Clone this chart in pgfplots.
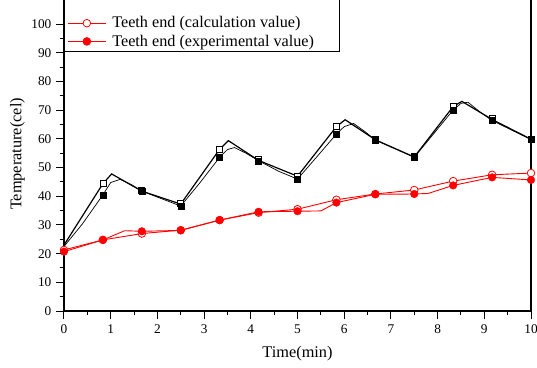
\documentclass[border=0pt]{standalone}
\usepackage{fontspec}
\setmainfont{Liberation Serif}
\usepackage{pgfplots}
\pgfplotsset{compat=1.18}
\begin{document}
\fontsize{13.3}{15}\selectfont
\begin{tikzpicture}
\begin{axis}[
  scale only axis, width=467pt, height=314pt,
  xmin=0, xmax=10, ymin=0, ymax=109.5,
  xtick={0,1,...,10}, ytick={0,10,...,100},
  minor x tick num=1, minor y tick num=1,
  tick align=outside, tick pos=left,
  major tick length=8pt, minor tick length=4pt,
  every tick/.style={black, line width=1pt},
  axis line style={line width=1.2pt},
  /pgf/number format/assume math mode=true,
  ticklabel style={font=\fontsize{13.3}{15}\selectfont},
  xticklabel style={yshift=-1pt},
  label style={font=\fontsize{16.3}{18}\selectfont},
  xlabel={Time(min)}, ylabel={Temperature(cel)},
  xlabel style={at={(axis description cs:0.5,-0.137)}, anchor=center},
  ylabel style={at={(axis description cs:-0.0996,0.5)}, anchor=center},
  legend cell align=left,
  legend style={at={(axis description cs:0,0.825)}, anchor=south west, draw=black, line width=0.8pt,
    font=\fontsize{16.2}{18}\selectfont, inner xsep=3pt, inner ysep=1.5pt, row sep=1pt,
    /tikz/every odd column/.append style={column sep=4pt}},
  legend image code/.code={\draw[mark repeat=2,mark phase=2,#1] plot coordinates {(0pt,0pt) (19pt,0pt) (38pt,0pt)};},
]
% black calculation line
\addplot[black, line width=1.2pt, forget plot] coordinates {
(0,23)(0.833,44.4)(1.02,47.8)(1.667,41.8)(2.5,37.3)(3.333,56.4)(3.52,59.4)(4.167,52.5)(5,47)(5.833,64.3)(6.02,66.7)(6.667,59.7)(7.5,53.7)(8.333,71.3)(8.52,73.1)(9.167,66.8)(10,59.9)};
% black experimental line
\addplot[black, line width=0.7pt, forget plot] coordinates {
(0,22.5)(0.4,30.5)(0.833,40.5)(1.0,44.8)(1.2,45.9)(1.45,44)(1.667,41.8)(2.5,36.6)(2.9,44.5)(3.333,53.6)(3.5,56.3)(3.65,57)(3.9,55)(4.167,52.4)(4.6,48.7)(5,46)(5.4,53.5)(5.833,61.7)(6.0,64.3)(6.2,65.4)(6.45,62.5)(6.667,59.6)(7.5,53.6)(7.9,61.5)(8.333,70.1)(8.5,72.4)(8.65,72.8)(8.9,69.5)(9.167,66.4)(10,59.8)};
% black marks
\addplot[only marks, mark=square*, mark size=3pt, mark options={fill=white, draw=black, line width=0.8pt}, forget plot] coordinates {
(0.833,44.4)(1.667,42.2)(2.5,37.6)(3.333,56.4)(4.167,52.8)(5,47)(5.833,64.3)(6.667,60)(7.5,53.9)(8.333,71.3)(9.167,67)(10,60)};
\addplot[only marks, mark=square*, mark size=3pt, mark options={fill=black, draw=black}, forget plot] coordinates {
(0.833,40.5)(1.667,41.8)(2.5,36.6)(3.333,53.6)(4.167,52.4)(5,46)(5.833,61.7)(6.667,59.6)(7.5,53.6)(8.333,70.1)(9.167,66.4)(10,59.8)};
% red calculation line
\addplot[red, line width=0.9pt, forget plot] coordinates {
(0,21.3)(0.833,24.8)(1.667,27.0)(2.5,28.2)(3.333,31.7)(4.167,34.3)(5,35.5)(5.833,38.8)(6.667,40.8)(7.5,42.2)(8.333,45.3)(9.167,47.5)(10,48.1)};
% red experimental line
\addplot[red, line width=0.9pt, forget plot] coordinates {
(0,20.7)(0.833,24.8)(1.3,28)(1.667,27.8)(2.5,28.1)(3.333,31.7)(4.167,34.6)(5,34.8)(5.5,34.9)(5.833,37.8)(6.667,40.7)(7.5,40.8)(7.8,41)(8.333,43.8)(9.167,46.6)(10,45.7)};
% red marks
\addplot[only marks, mark=*, mark size=3.8pt, mark options={fill=white, draw=red, line width=0.8pt}, forget plot] coordinates {
(0,21.3)(0.833,24.8)(1.667,27.0)(2.5,28.2)(3.333,31.7)(4.167,34.3)(5,35.5)(5.833,38.8)(6.667,40.8)(7.5,42.2)(8.333,45.3)(9.167,47.5)(10,48.1)};
\addplot[only marks, mark=*, mark size=3.8pt, mark options={fill=red, draw=red}, forget plot] coordinates {
(0,20.7)(0.833,24.8)(1.667,27.8)(2.5,28.1)(3.333,31.7)(4.167,34.6)(5,34.8)(5.833,37.8)(6.667,40.7)(7.5,40.8)(8.333,43.8)(9.167,46.6)(10,45.7)};
\addlegendimage{empty legend}\addlegendentry{\strut\hspace*{222pt}}
\addlegendimage{red, line width=0.9pt, mark=*, mark size=3.8pt, mark options={fill=white, draw=red, line width=0.8pt}}
\addlegendentry{Teeth end (calculation value)}
\addlegendimage{red, line width=0.9pt, mark=*, mark size=3.8pt, mark options={fill=red, draw=red}}
\addlegendentry{Teeth end (experimental value)}
\end{axis}
\pgfresetboundingbox
\path[use as bounding box] ([xshift=-64pt,yshift=-56pt]current axis.south west) rectangle ([xshift=6pt,yshift=-3pt]current axis.north east);
\end{tikzpicture}
\end{document}
